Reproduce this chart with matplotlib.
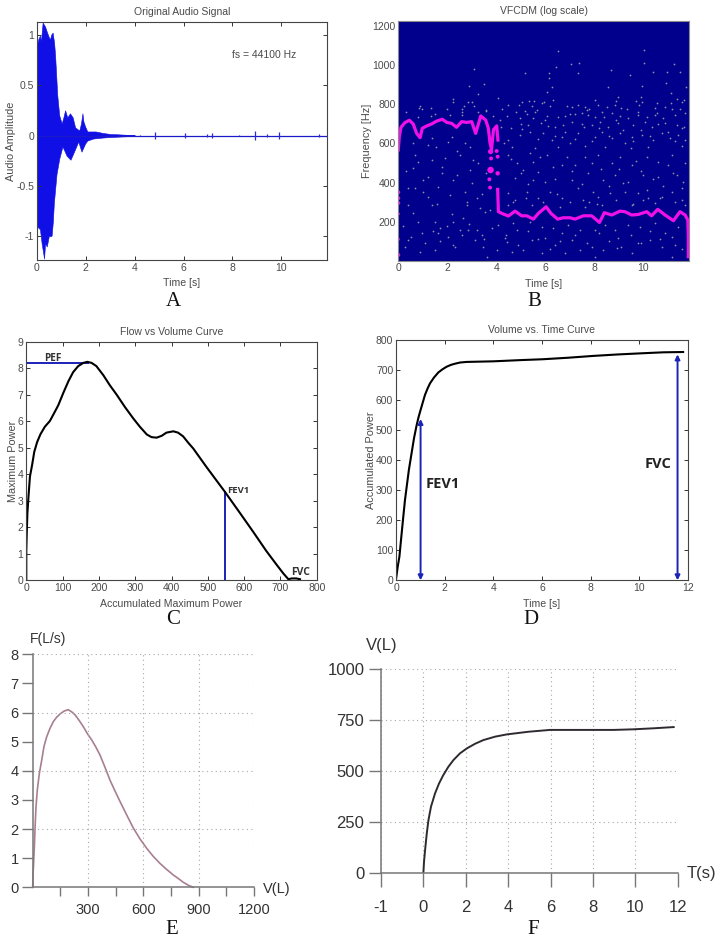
import numpy as np
import matplotlib
matplotlib.use('Agg')
import matplotlib.pyplot as plt

plt.rcParams['font.family'] = ['Liberation Sans', 'DejaVu Sans']

W, H = 720, 942
GRAY = '#4a4a4a'
BLUE = '#1a22b8'

# A: envelope of the audio signal
audio_up_t = [0, .01, .06, .12, .16, .23, .28, .33, .40, .46, .53, .58, .64, .70, .74, .83, .91, 1.01, 1.08, 1.15, 1.24, 1.35, 1.46, 1.56, 1.73, 1.80, 1.86, 1.90, 1.97, 2.06, 2.4, 2.7, 3.0, 3.3, 3.6, 4.0]
audio_up = [.91, .91, .96, .99, .93, 1.12, 1.10, 1.08, 1.03, .99, .95, 1.0, 1.02, .92, .80, .40, .20, .12, .18, .25, .18, .22, .18, .08, .05, .12, .22, .14, .09, .04, .04, .025, .015, .012, .008, .004]
audio_lo_t = [0, .12, .19, .29, .33, .40, .49, .55, .60, .65, .69, .80, .91, 1.04, 1.12, 1.21, 1.37, 1.48, 1.69, 1.82, 1.97, 2.06, 2.3, 2.7, 3.0, 3.6, 4.0]
audio_lo = [-.90, -.93, -1.07, -1.22, -1.07, -1.10, -.99, -1.0, -.99, -.85, -.67, -.38, -.23, -.11, -.15, -.20, -.24, -.18, -.06, -.16, -.08, -.05, -.03, -.02, -.015, -.008, -.004]
spike_t = [4.2, 4.83, 6.05, 6.95, 7.18, 8.27, 8.92, 9.4, 9.92, 11.55]
spike_h = [.006, .03, .025, .015, .02, .008, .04, .012, .03, .012]

# B: ridge and the scattered points of the spectrogram
ridge_hi_t = [0, .04, .11, .27, .45, .61, .75, .89, .98, 1.16, 1.36, 1.57, 1.80, 1.98, 2.18, 2.38, 2.59, 2.79, 3.0, 3.16, 3.37, 3.57, 3.68, 3.75, 3.81, 3.89, 4.02, 4.07]
ridge_hi = [566, 634, 682, 706, 718, 699, 651, 629, 677, 689, 699, 714, 723, 707, 702, 682, 711, 707, 711, 651, 740, 719, 677, 600, 570, 670, 689, 617]
ridge_lo_t = [4.06, 4.09, 4.29, 4.5, 4.77, 5.04, 5.25, 5.52, 5.72, 6.04, 6.24, 6.51, 6.74, 7.02, 7.22, 7.56, 7.90, 8.22, 8.42, 8.72, 9.06, 9.26, 9.54, 9.81, 10.15, 10.35, 10.6, 10.9, 11.24, 11.51, 11.72, 11.83, 11.85, 11.85]
ridge_lo = [365, 251, 239, 229, 254, 230, 230, 213, 242, 276, 242, 213, 220, 220, 213, 230, 230, 196, 246, 234, 254, 251, 234, 237, 251, 230, 263, 234, 205, 251, 234, 208, 123, 21]
blob_t = [3.77, 3.79, 3.77, 3.72, 3.75, 4.02, 4.06, 4.06, 0, 0, 0, 0, 0, 0]
blob_f = [558, 523, 464, 416, 374, 561, 532, 447, 350, 320, 295, 240, 110, 30]
blob_s = [14, 8, 22, 8, 8, 8, 8, 10, 8, 8, 8, 5, 5, 8]

dots_t = [6.54, 10.05, 3.11, 6.43, 7.05, 7.38, 10.05, 11.28, 5.17, 6.17, 7.33, 8.69, 9.45, 10.4, 10.96, 11.52, 2.89, 3.51, 6.16, 6.27, 6.06, 8.55, 9.94, 10.92, 11.77, 3.27, 2.25, 4.09, 11.14, 8.99, 9.91, 11.37, 11.69,
          5.07, 5.34, 5.56, 5.94, 6.33, 8.04, 8.88, 9.70, 9.94, 10.56, 11.58,
          .84, .98, 1.33, 2.25, 2.59, 2.67, 2.83, 3.02, 4.25, 4.49, 4.93, 5.17, 5.45, 5.65, 5.86, 6.88, 7.08, 7.35, 7.63, 7.79, 8.17, 8.51, 8.85, 9.33, 9.83, 10.49, 10.90, 11.14, 11.51,
          .82, 1.33, 2.11, 2.59, 3.27, 3.57, 3.87, 4.15, 4.43, 4.97, 5.24, 5.58, 6.06, 6.51, 6.81, 7.22, 7.49, 7.76, 8.04, 8.31, 8.72, 9.06, 9.40, 9.78, 10.15, 10.56, 10.83, 11.30, 11.71,
          4.19, 5.07, 5.28, 5.83, 5.99, 6.40, 6.74, 7.11, 7.60, 7.90, 8.24, 8.55, 8.99, 9.60, 10.08, 10.38, 10.90, 11.37, 11.69,
          1.36, 2.18, 2.02, 2.72, 4.49, 4.97, 5.92, 6.29, 6.67, 7.01, 7.35, 8.04, 8.34, 8.72, 9.06, 9.26, 9.53, 9.94, 10.42, 10.76, 11.10, 11.44, 11.71,
          1.53, 2.93, 4.63, 5.58, 6.54, 7.63, 8.44, 9.51, 10.22, 11.58,
          .82, .61, 1.36, 1.91, 1.77, 1.02, .68, 2.52, 3.06, 2.93, 3.27, 2.25, 1.63, 1.23, 1.36, .41, .61, 2.11, 2.72, 3.20, 3.34, 3.54, 3.75, 2.79,
          4.49, 4.83, 5.38, 5.52, 6.06, 5.11, 5.72, 6.33, 4.77, 5.52, 5.99, 7.08, 6.67, 7.22, 7.63, 8.17, 8.72, 9.06, 9.53, 10.15, 10.62, 11.17, 11.71, 7.76, 8.38, 8.85, 9.40, 10.01, 10.62, 11.24, 11.65,
          4.49, 4.77, 5.24, 5.72, 6.20, 6.67, 7.35, 7.97, 7.56, 8.17, 8.65, 9.26, 9.81, 10.15, 10.22, 10.76, 11.17, 11.58, 4.49, 5.45, 6.61, 7.63, 8.31, 9.53, 10.49, 11.71,
          .27, .95, 1.50, 1.70, 2.25, 2.66, 2.04, 2.52, 2.86, 3.13, 2.25, 1.50, .89, 3.40, 3.81, 4.09, 4.36, 4.43, 4.83, 4.70, 5.38, 5.86, 6.33, 6.95, 6.67, 5.99, 5.45, 5.11, 4.63, 4.02, 3.61, 3.47, 6.40, 7.08, 7.42, 8.04, 7.90, 8.44, 8.85, 8.99, 9.40, 9.87, 10.49, 10.90, 11.44, 9.81, 10.28, 10.76, 11.30, 8.38, 8.92, 7.42, 6.81, 8.04, 5.86, 9.53, 11.17, 1.63, .41,
          4.6, 5.0, 5.3, 5.8, 6.4, 6.9, 7.1, 7.5, 7.9, 8.3, 8.6, 9.0, 9.2, 9.7, 9.9, 10.4, 10.8, 11.0, 11.4, 11.6,
          4.7, 5.2, 5.9, 6.5, 7.0, 7.8, 8.1, 8.9, 9.6, 10.0, 10.7, 11.3,
          4.4, 4.9, 5.3, 5.7, 6.2, 6.6, 7.2, 7.7, 8.2, 8.6, 9.1, 9.5, 9.9, 10.3, 10.7, 11.2, 11.6,
          .2, .5, .8, 1.1, 1.4, 1.7, 2.0, 2.3, 2.6, 2.9, 3.2, 3.5, .3, .7, 1.2, 1.8, 2.4, 3.0, 3.6, .4, 1.0, 1.6, 2.2, 2.8, 3.4,
          4.3, 4.6, 5.0, 5.4, 5.7, 6.1, 6.4, 6.8, 7.2, 7.5, 7.9, 8.2, 8.6, 8.9, 9.2, 9.6, 9.9, 10.3, 10.6, 11.0, 11.3, 11.6, 4.8, 5.5, 6.2, 7.0, 7.7, 8.4, 9.1, 9.8, 10.5, 11.2,
          .3, .9, 1.5, 2.0, 2.6, 3.1, 3.6, 1.2, 2.4, .6]
dots_f = [1070, 1077, 980, 988, 1004, 1012, 1012, 1005, 959, 961, 959, 973, 951, 963, 965, 965, 895, 901, 936, 890, 864, 890, 895, 907, 886, 852, 827, 832, 859, 838, 835, 827, 821,
          811, 815, 818, 811, 821, 821, 815, 818, 813, 804, 811,
          782, 775, 782, 810, 774, 791, 813, 810, 777, 796, 794, 767, 791, 770, 804, 791, 787, 796, 787, 774, 796, 787, 796, 774, 796, 779, 784, 804, 774,
          736, 740, 745, 745, 762, 767, 740, 719, 740, 728, 750, 762, 740, 733, 740, 750, 757, 745, 733, 762, 753, 740, 728, 745, 733, 757, 728, 745, 757,
          682, 672, 694, 702, 719, 682, 694, 711, 682, 694, 711, 682, 702, 694, 711, 682, 702, 694, 682,
          626, 634, 609, 600, 617, 643, 655, 617, 634, 600, 651, 634, 660, 626, 651, 600, 634, 643, 617, 651, 626, 643, 617,
          580, 580, 583, 575, 583, 586, 580, 575, 583, 586,
          506, 472, 515, 523, 447, 413, 370, 540, 515, 464, 498, 413, 379, 328, 285, 285, 242, 336, 353, 319, 268, 251, 259, 285,
          540, 498, 549, 506, 540, 464, 455, 481, 421, 413, 404, 413, 489, 489, 532, 540, 498, 532, 489, 532, 506, 540, 498, 447, 413, 438, 404, 438, 430, 447, 404,
          345, 311, 353, 319, 353, 319, 370, 353, 311, 328, 345, 353, 345, 362, 319, 328, 353, 311, 285, 285, 276, 276, 285, 285, 294, 285,
          72, 140, 200, 166, 200, 217, 123, 157, 157, 106, 81, 55, 47, 132, 166, 183, 115, 98, 157, 191, 200, 174, 166, 183, 140, 115, 106, 55, 47, 55, 21, 72, 81, 106, 157, 157, 72, 183, 157, 115, 183, 174, 191, 140, 174, 89, 106, 72, 81, 55, 64, 55, 38, 21, 38, 38, 21, 140, 106,
          520, 450, 390, 530, 420, 530, 460, 390, 500, 470, 380, 470, 400, 510, 460, 420, 380, 490, 440, 370,
          300, 320, 300, 340, 300, 300, 290, 310, 290, 310, 320, 300,
          130, 80, 150, 110, 60, 100, 130, 90, 140, 100, 70, 130, 90, 150, 110, 120, 60,
          180, 120, 200, 90, 150, 100, 180, 70, 130, 190, 160, 110, 460, 540, 430, 480, 440, 400, 450, 370, 350, 290, 240, 300, 340,
          600, 680, 700, 660, 620, 690, 640, 660, 620, 700, 610, 680, 640, 720, 670, 610, 670, 640, 700, 660, 610, 680, 760, 730, 790, 750, 770, 735, 780, 760, 745, 775,
          760, 790, 750, 775, 760, 790, 770, 590, 560, 600]

# C: flow vs volume
flow_v = [0, 0, 1, 3, 6, 10, 16, 22, 30, 39, 51, 65, 76, 88, 102, 116, 129, 143, 157, 168, 180, 193, 212, 230, 249, 272, 295, 313, 332, 345, 359, 373, 386, 405, 418, 432, 446, 460, 496, 547, 588, 625, 661, 690, 708, 722, 731, 744, 754]
flow_f = [0, 1.14, 1.65, 2.53, 3.16, 3.91, 4.35, 4.85, 5.22, 5.51, 5.79, 6.01, 6.29, 6.6, 7.07, 7.51, 7.85, 8.08, 8.2, 8.24, 8.2, 8.08, 7.74, 7.36, 7.0, 6.53, 6.1, 5.79, 5.5, 5.4, 5.38, 5.45, 5.57, 5.62, 5.57, 5.43, 5.19, 4.97, 4.28, 3.34, 2.55, 1.83, 1.11, .58, .26, .04, .07, .07, .04]

# D: volume vs time
vol_t = [0, .07, .14, .22, .30, .37, .44, .53, .64, .74, .85, .93, 1.01, 1.10, 1.19, 1.30, 1.40, 1.56, 1.74, 1.92, 2.08, 2.25, 2.42, 2.63, 2.90, 3.45, 4.0, 5.1, 6.05, 7.08, 8.1, 9.14, 10.16, 10.99, 11.8]
vol_p = [3, 45, 79, 146, 212, 268, 312, 368, 423, 473, 517, 544, 567, 592, 617, 639, 656, 675, 692, 703, 711, 717, 721, 725, 727, 728, 729, 733, 736, 741, 747, 752, 756, 759, 760]

# E: reference flow vs volume
ref_v = [0, 2, 4, 9, 13, 18, 25, 36, 49, 61, 76, 94, 112, 130, 148, 170, 193, 212, 230, 253, 275, 296, 320, 343, 365, 392, 419, 446, 474, 510, 546, 582, 618, 654, 690, 727, 763, 790, 817, 844, 871]
ref_f = [0, .48, .71, 1.39, 2.08, 2.77, 3.34, 3.91, 4.37, 4.83, 5.17, 5.46, 5.69, 5.84, 5.95, 6.05, 6.1, 6.02, 5.92, 5.72, 5.51, 5.28, 5.06, 4.81, 4.54, 4.12, 3.68, 3.31, 2.94, 2.48, 2.03, 1.66, 1.34, 1.06, .82, .61, .42, .30, .17, .07, 0]

# F: reference volume vs time
ref_t = [0, .03, .08, .16, .24, .36, .55, .74, .94, 1.18, 1.42, 1.73, 2.05, 2.44, 2.83, 3.39, 3.94, 4.96, 5.98, 7.4, 8.98, 9.92, 10.87, 11.81]
ref_vol = [0, 54, 111, 193, 259, 325, 390, 439, 480, 521, 554, 587, 611, 634, 652, 669, 680, 693, 702, 702, 702, 705, 710, 716]
ref_t_ticks = [-2, 0, 2, 4, 6, 8, 10, 12]
ref_t_labels = ['-1', '0', '2', '4', '6', '8', '10', '12']


def add_ax(fig, left, top, right, bottom):
    return fig.add_axes([left / W, 1 - bottom / H, (right - left) / W, (bottom - top) / H])


def matlab_style(ax, title, xlabel, ylabel, xpad=4, ypad=0):
    ax.tick_params(direction='in', top=True, right=True, length=3, width=.7,
                   labelsize=7.5, pad=2, color='#333333', labelcolor=GRAY)
    for s in ax.spines.values():
        s.set_linewidth(.8)
        s.set_color('#444444')
    ax.set_title(title, fontsize=7.5, color=GRAY, pad=5)
    ax.set_xlabel(xlabel, fontsize=7.6, color=GRAY, labelpad=xpad)
    ax.set_ylabel(ylabel, fontsize=7.8, color=GRAY, labelpad=ypad)


def sketch_axes(ax, size):
    for s in ['top', 'right']:
        ax.spines[s].set_visible(False)
    for s in ['left', 'bottom']:
        ax.spines[s].set_color('#777777')
        ax.spines[s].set_linewidth(1.1)
    ax.tick_params(direction='out', width=1, color='#777777', labelsize=size, labelcolor='#333333')
    ax.grid(True, linestyle=(0, (1, 3)), color='#a8a8a8', linewidth=.8)
    ax.set_axisbelow(True)


def main():
    fig = plt.figure(figsize=(W / 100, H / 100), dpi=100)

    # A
    ax = add_ax(fig, 37, 22, 327, 260)
    ax.fill_between(audio_up_t, 0, audio_up, color='#0f0fe6', linewidth=.4)
    ax.fill_between(audio_lo_t, 0, audio_lo, color='#0f0fe6', linewidth=.4)
    ax.plot([0, 11.87], [0, 0], color='#1a1ac8', linewidth=.9)
    ax.vlines(spike_t, -np.array(spike_h), spike_h, color='#2a2ad0', linewidth=.9)
    ax.set_xlim(0, 11.87)
    ax.set_ylim(-1.234, 1.125)
    ax.set_xticks([0, 2, 4, 6, 8, 10])
    ax.set_yticks([-1, -.5, 0, .5, 1])
    ax.set_yticklabels(['-1', '-0.5', '0', '0.5', '1'])
    matlab_style(ax, 'Original Audio Signal', 'Time [s]', 'Audio Amplitude')
    ax.text(8.0, .795, 'fs = 44100 Hz', fontsize=7.5, color=GRAY, va='center')

    # B
    ax = add_ax(fig, 398.3, 21, 689.3, 260.7)
    ax.set_facecolor('#00008c')
    ax.scatter(dots_t, dots_f, s=1.6, color='#8d8da6', linewidths=0)
    ax.plot(ridge_hi_t, ridge_hi, color='#f010e8', linewidth=2.3)
    ax.plot(ridge_lo_t, ridge_lo, color='#f010e8', linewidth=2.3)
    ax.scatter(blob_t, blob_f, s=blob_s, color='#f010e8', linewidths=0)
    ax.set_xlim(0, 11.89)
    ax.set_ylim(.7, 1225)
    ax.set_xticks([0, 2, 4, 6, 8, 10])
    ax.set_yticks([200, 400, 600, 800, 1000, 1200])
    matlab_style(ax, 'VFCDM (log scale)', 'Time [s]', 'Frequency [Hz]')
    ax.tick_params(length=0)
    for s in ax.spines.values():
        s.set_color('#8a8a8a')

    # C
    ax = add_ax(fig, 26.3, 341.7, 316.7, 580.3)
    ax.plot([0, 170], [8.2, 8.2], color=BLUE, linewidth=1.4)
    ax.plot([547, 547], [0, 3.34], color=BLUE, linewidth=1.4)
    ax.plot(flow_v, flow_f, color='black', linewidth=1.5)
    ax.set_xlim(0, 800)
    ax.set_ylim(0, 9)
    ax.set_xticks(range(0, 801, 100))
    ax.set_yticks(range(0, 10))
    matlab_style(ax, 'Flow vs Volume Curve', 'Accumulated Maximum Power', 'Maximum Power')
    ax.text(50, 8.35, 'PEF', fontsize=7.2, fontweight='bold', color='#333333', va='center', family='Open Sans')
    ax.text(552, 3.39, 'FEV1', fontsize=6.8, fontweight='bold', color='#333333', va='center', family='Open Sans')
    ax.text(729, .3, 'FVC', fontsize=7.5, fontweight='bold', color='#333333', va='center', family='Open Sans')

    # D
    ax = add_ax(fig, 396, 340, 688, 580.3)
    ax.plot(vol_t, vol_p, color='black', linewidth=1.5)
    for t, top in [(1.01, 537), (11.57, 752)]:
        ax.annotate('', xy=(t, top), xytext=(t, 0),
                    arrowprops=dict(arrowstyle='<|-|>', color=BLUE, linewidth=1.4,
                                    mutation_scale=7, shrinkA=0, shrinkB=0))
    ax.set_xlim(0, 12)
    ax.set_ylim(0, 800)
    ax.set_xticks(range(0, 13, 2))
    ax.set_yticks(range(0, 801, 100))
    matlab_style(ax, 'Volume vs. Time Curve', 'Time [s]', 'Accumulated Power')
    ax.text(1.2, 320, 'FEV1', fontsize=10.5, fontweight='bold', color='#222222', va='center', family='Open Sans')
    ax.text(10.23, 386, 'FVC', fontsize=10.5, fontweight='bold', color='#222222', va='center', family='Open Sans')

    # E
    ax = add_ax(fig, 32.7, 654.3, 254, 887.3)
    sketch_axes(ax, 10.5)
    ax.plot(ref_v, ref_f, color='#a87f92', linewidth=1.2, clip_on=False)
    ax.set_xlim(0, 1200)
    ax.set_ylim(0, 8)
    ax.set_xticks(range(150, 1201, 150))
    ax.set_xticklabels(['', '300', '', '600', '', '900', '', '1200'])
    ax.set_yticks(range(0, 9))
    ax.grid(False)
    for v in [300, 600, 900, 1200]:
        ax.axvline(v, linestyle=(0, (1, 3)), color='#a8a8a8', linewidth=.8)
    for f in [2, 4, 6, 8]:
        ax.axhline(f, linestyle=(0, (1, 3)), color='#a8a8a8', linewidth=.8)
    ax.tick_params(axis='x', length=6.5, pad=5)
    ax.tick_params(axis='y', length=8, pad=2)
    ax.text(0.07, 1.065, 'F(L/s)', transform=ax.transAxes, fontsize=10, color='#333333', ha='center', va='center')
    ax.text(1.105, -.008, 'V(L)', transform=ax.transAxes, fontsize=10.5, color='#333333', ha='center', va='center')

    # F
    ax = add_ax(fig, 381, 669.3, 677.7, 872.7)
    sketch_axes(ax, 12)
    ax.plot(ref_t, ref_vol, color='#2f2a30', linewidth=1.4)
    ax.set_xlim(-2, 12)
    ax.set_ylim(0, 1000)
    ax.set_xticks(ref_t_ticks)
    ax.set_xticklabels(ref_t_labels)
    ax.set_yticks([0, 250, 500, 750, 1000])
    ax.tick_params(axis='x', length=10, pad=10)
    ax.tick_params(axis='y', length=9, pad=3)
    ax.text(.003, 1.115, 'V(L)', transform=ax.transAxes, fontsize=12, color='#333333', ha='center', va='center')
    ax.text(1.08, -.005, 'T(s)', transform=ax.transAxes, fontsize=12, color='#333333', ha='center', va='center')

    # panel letters
    for letter, x, y in [('A', 173.7, 302), ('B', 534, 302), ('C', 173, 619),
                         ('D', 531, 619), ('E', 172, 930), ('F', 533, 930)]:
        fig.text(x / W, 1 - y / H, letter, fontsize=15, family='Liberation Serif',
                 ha='center', va='center', color='#111111')

    fig.savefig('out.png', dpi=100)


if __name__ == "__main__":
    main()
